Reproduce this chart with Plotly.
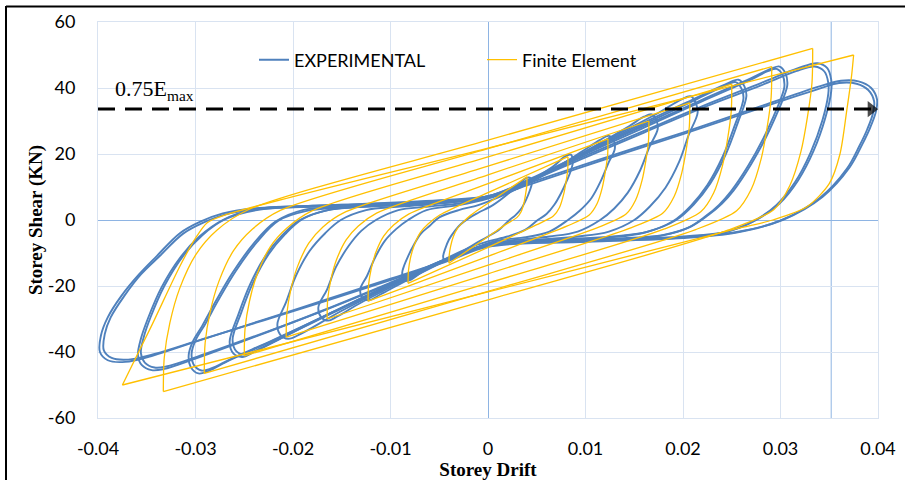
import plotly.graph_objects as go

# ---------------- axes / labels ----------------
x_tick_vals = [-0.04, -0.03, -0.02, -0.01, 0.0, 0.01, 0.02, 0.03, 0.04]
x_tick_text = ["-0.04", "-0.03", "-0.02", "-0.01", "0", "0.01", "0.02", "0.03", "0.04"]
y_tick_vals = [-60, -40, -20, 0, 20, 40, 60]
y_tick_text = ["-60", "-40", "-20", "0", "20", "40", "60"]

ref_line_drift = 0.0352          # extra vertical reference line
emax75_shear = 33.6              # 0.75 Emax level (dashed arrow)
emax75_drift = [-0.04, 0.0393]   # dashed arrow from / to
emax75_label = "0.75E<sub>max</sub>"

# ---------------- EXPERIMENTAL cycles (drift, shear) ----------------
exp_c1_drift = [-0.0010, 0.0005, 0.0020, 0.0032, 0.0040, 0.0044, 0.0045, 0.0043, 0.0039, 0.0034, 0.0028, 0.0022, 0.0012, 0.0000,
                -0.0015, -0.0030, -0.0040, -0.0045, -0.0046, -0.0044, -0.0040, -0.0034, -0.0028, -0.0020, -0.0010]
exp_c1_shear = [2.2, 4.5, 7.8, 11.0, 12.8, 12.6, 11.2, 9.0, 6.1, 3.4, 1.4, 0.0, -2.8, -5.0,
                -7.5, -10.2, -12.2, -12.3, -11.0, -8.8, -5.9, -3.3, -1.3, 0.5, 2.2]

exp_c2_drift = [-0.0030, -0.0010, 0.0010, 0.0030, 0.0050, 0.0068, 0.0079, 0.0085, 0.0087, 0.0085, 0.0081, 0.0075, 0.0068, 0.0060,
                0.0051, 0.0038, 0.0020, 0.0000, -0.0020, -0.0045, -0.0068, -0.0080, -0.0086, -0.0088, -0.0086, -0.0082, -0.0076,
                -0.0069, -0.0060, -0.0050, -0.0030]
exp_c2_shear = [3.0, 4.5, 6.8, 9.5, 13.0, 16.5, 19.3, 19.8, 17.5, 15.0, 12.0, 8.2, 4.6, 1.8,
                0.0, -3.0, -5.0, -6.5, -8.5, -12.0, -15.8, -18.2, -18.3, -16.0, -13.8, -11.0, -7.5,
                -4.2, -1.8, 0.8, 3.0]

exp_c3_drift = [0.0000, 0.0030, 0.0065, 0.0095, 0.0115, 0.0124, 0.0129, 0.0130, 0.0124, 0.0116, 0.0106, 0.0094, 0.0082, 0.0063,
                0.0039, 0.0015, 0.0000, -0.0030, -0.0075, -0.0110, -0.0122, -0.0129, -0.0131, -0.0124, -0.0116, -0.0106,
                -0.0094, -0.0082, -0.0063, -0.0030, 0.0000]
exp_c3_shear = [6.5, 9.5, 15.0, 20.5, 24.3, 25.5, 24.0, 21.5, 17.6, 12.0, 6.6, 2.8, 0.0, -3.5,
                -5.2, -6.0, -7.0, -10.5, -17.0, -22.5, -24.3, -23.5, -21.0, -16.9, -11.5, -6.4,
                -2.7, 0.0, 3.0, 4.5, 6.5]

exp_c4_drift = [0.0000, 0.0030, 0.0070, 0.0110, 0.0145, 0.0160, 0.0168, 0.0173, 0.0174, 0.01655, 0.0156, 0.01434, 0.01295, 0.0115,
                0.0092, 0.0063, 0.0030, 0.0000, -0.0030, -0.0080, -0.0130, -0.0155, -0.0164, -0.0171, -0.0174, -0.0165,
                -0.0156, -0.0143, -0.0130, -0.0115, -0.0092, -0.0063, -0.0030, 0.0000]
exp_c4_shear = [6.8, 10.0, 16.0, 22.5, 28.5, 31.3, 32.0, 30.0, 27.5, 22.1, 15.0, 8.3, 3.5, 0.0,
                -3.5, -5.0, -6.0, -7.3, -10.5, -17.5, -25.0, -29.3, -30.5, -29.5, -26.5, -21.0,
                -14.3, -7.9, -3.3, 0.0, 3.0, 4.0, 5.0, 6.8]

exp_c5_drift = [0.0000, 0.0030, 0.0080, 0.0130, 0.0175, 0.0198, 0.0208, 0.0213, 0.0215, 0.0206, 0.0196, 0.0182, 0.0166, 0.0150,
                0.0124, 0.0092, 0.0050, 0.0000, -0.0030, -0.0090, -0.0150, -0.0192, -0.0205, -0.0213, -0.0216, -0.0207,
                -0.0197, -0.0183, -0.0167, -0.0151, -0.0125, -0.0093, -0.0050, 0.0000]
exp_c5_shear = [7.0, 10.0, 17.5, 25.5, 32.5, 36.5, 37.5, 35.5, 32.5, 25.9, 17.6, 9.8, 4.1, 0.0,
                -3.5, -5.0, -6.0, -7.5, -10.5, -18.5, -27.5, -34.5, -36.0, -34.8, -31.5, -24.8,
                -16.9, -9.4, -4.0, 0.0, 3.0, 4.0, 5.0, 7.0]

exp_c6_drift = [0.0000, 0.0040, 0.0100, 0.0160, 0.0210, 0.0243, 0.0257, 0.0263, 0.0265, 0.0256, 0.0244, 0.0228, 0.0211, 0.0193,
                0.0164, 0.0128, 0.0070, 0.0000, -0.0040, -0.0100, -0.0160, -0.0210, -0.0240, -0.0252, -0.0261, -0.0265,
                -0.0256, -0.0244, -0.0228, -0.0211, -0.0193, -0.0164, -0.0128, -0.0060, 0.0000]
exp_c6_shear = [7.0, 11.5, 20.5, 29.5, 36.5, 41.0, 42.5, 40.5, 37.5, 29.3, 20.0, 11.1, 4.7, 0.0,
                -3.5, -5.0, -6.0, -7.5, -11.5, -19.5, -28.0, -35.5, -40.0, -41.5, -40.5, -37.0,
                -28.6, -19.5, -10.8, -4.6, 0.0, 3.0, 4.0, 5.2, 7.0]

exp_c6b_drift = [0.0000, 0.0040, 0.0100, 0.0160, 0.0210, 0.0240, 0.0254, 0.0260, 0.0262, 0.0253, 0.0241, 0.0225, 0.0208, 0.0190,
                 0.0161, 0.0125, 0.0070, 0.0000, -0.0040, -0.0100, -0.0160, -0.0210, -0.0237, -0.0249, -0.0258, -0.0262,
                 -0.0253, -0.0241, -0.0225, -0.0208, -0.0190, -0.0161, -0.0125, -0.0060, 0.0000]
exp_c6b_shear = [6.8, 11.2, 20.2, 29.0, 36.0, 40.3, 41.8, 39.8, 36.8, 28.6, 19.4, 10.6, 4.3, -0.3,
                 -3.8, -5.3, -6.3, -7.8, -11.8, -19.8, -28.2, -35.5, -39.4, -40.8, -39.8, -36.3,
                 -28.0, -19.0, -10.4, -4.3, 0.3, 3.2, 4.2, 5.0, 6.8]

exp_c7_drift = [0.0000, 0.0040, 0.0100, 0.0160, 0.0220, 0.0270, 0.0290, 0.0299, 0.0305, 0.0307, 0.0303, 0.0296, 0.0285, 0.0270,
                0.0252, 0.0240, 0.0226, 0.0208, 0.0180, 0.0130, 0.0070, 0.0000, -0.0040, -0.0100, -0.0160, -0.0220,
                -0.0265, -0.0287, -0.0297, -0.0305, -0.0307, -0.0303, -0.0293, -0.0280, -0.0262, -0.0240, -0.0218,
                -0.0190, -0.0150, -0.0080, 0.0000]
exp_c7_shear = [7.2, 12.0, 20.5, 28.5, 36.5, 43.0, 45.8, 46.5, 44.5, 41.0, 37.0, 32.0, 25.0, 17.0,
                9.0, 5.0, 1.5, -2.0, -4.5, -5.6, -6.2, -7.6, -11.5, -19.5, -28.0, -36.5,
                -42.5, -45.8, -46.5, -44.5, -41.0, -37.0, -32.0, -25.0, -16.0, -7.0, -0.5,
                3.0, 4.0, 5.0, 7.2]

exp_c7b_drift = [0.0000, 0.0040, 0.0100, 0.0160, 0.0220, 0.0268, 0.0287, 0.0296, 0.0302, 0.0304, 0.0300, 0.0293, 0.0282, 0.0267,
                 0.0249, 0.0237, 0.0223, 0.0205, 0.0177, 0.0130, 0.0070, 0.0000, -0.0040, -0.0100, -0.0160, -0.0220,
                 -0.0263, -0.0284, -0.0294, -0.0302, -0.0304, -0.0300, -0.0290, -0.0277, -0.0259, -0.0237, -0.0215,
                 -0.0187, -0.0150, -0.0080, 0.0000]
exp_c7b_shear = [6.9, 11.6, 20.0, 28.0, 36.0, 42.3, 45.1, 45.8, 44.0, 40.5, 36.5, 31.5, 24.5, 16.5,
                 8.6, 4.6, 1.1, -2.4, -4.8, -5.9, -6.5, -7.9, -11.8, -19.7, -28.1, -36.3,
                 -42.0, -45.0, -45.6, -43.8, -40.5, -36.5, -31.5, -24.5, -15.6, -6.7, -0.2,
                 2.7, 3.7, 4.7, 6.9]

exp_c8_drift = [0.0000, 0.0040, 0.0100, 0.0160, 0.0220, 0.0280, 0.0318, 0.0338, 0.0348, 0.0352, 0.0352, 0.0346, 0.0334, 0.0318,
                0.0299, 0.0275, 0.0245, 0.0200, 0.0100, 0.0000, -0.0040, -0.0100, -0.0170, -0.0240, -0.0300, -0.0333,
                -0.0345, -0.0355, -0.0359, -0.0356, -0.0349, -0.0335, -0.0316, -0.0296, -0.0272, -0.0240, -0.0180,
                -0.0080, 0.0000]
exp_c8_shear = [7.2, 11.8, 19.5, 27.0, 34.5, 41.5, 46.0, 47.5, 46.0, 42.5, 39.0, 31.0, 21.0, 12.0,
                5.0, 0.0, -3.5, -5.0, -6.2, -7.6, -11.5, -19.0, -27.5, -35.5, -42.0, -45.2,
                -45.5, -44.0, -41.0, -36.0, -30.0, -20.5, -11.5, -5.0, 0.0, 3.2, 4.3,
                5.3, 7.2]

exp_c8b_drift = [0.0000, 0.0040, 0.0100, 0.0160, 0.0220, 0.0280, 0.0316, 0.0335, 0.0345, 0.0349, 0.0349, 0.0343, 0.0331, 0.0315,
                 0.0296, 0.0272, 0.0242, 0.0200, 0.0100, 0.0000, -0.0040, -0.0100, -0.0170, -0.0240, -0.0298, -0.0330,
                 -0.0342, -0.0352, -0.0356, -0.0353, -0.0346, -0.0332, -0.0313, -0.0293, -0.0269, -0.0237, -0.0180,
                 -0.0080, 0.0000]
exp_c8b_shear = [6.9, 11.4, 19.0, 26.5, 34.0, 40.8, 45.1, 46.5, 45.0, 41.6, 38.2, 30.2, 20.5, 11.5,
                 4.6, -0.4, -3.8, -5.3, -6.5, -7.9, -11.8, -19.2, -27.6, -35.3, -41.4, -44.4,
                 -44.7, -43.2, -40.3, -35.4, -29.4, -20.0, -11.0, -4.6, 0.3, 3.0, 4.1,
                 5.1, 6.9]

exp_c9_drift = [0.0000, 0.0040, 0.0114, 0.0200, 0.0280, 0.0340, 0.0362, 0.0380, 0.0393, 0.0399, 0.0398, 0.0392, 0.0384, 0.0371,
                0.0343, 0.0302, 0.0258, 0.0200, 0.0100, 0.0000, -0.0040, -0.0100, -0.0193, -0.0295, -0.0345, -0.0372,
                -0.0390, -0.0398, -0.0397, -0.0390, -0.0376, -0.0358, -0.0340, -0.0316, -0.0295, -0.0272, -0.0238,
                -0.0150, -0.0050, 0.0000]
exp_c9_shear = [7.2, 11.0, 18.3, 26.5, 34.5, 40.5, 42.2, 42.0, 40.0, 36.5, 33.0, 28.0, 23.0, 16.0,
                7.0, 0.0, -3.5, -5.2, -6.3, -7.8, -12.0, -17.8, -26.7, -36.4, -41.2, -43.0,
                -42.5, -40.0, -35.0, -29.5, -23.0, -16.5, -11.0, -4.0, -0.5, 2.0, 3.6,
                4.6, 6.0, 7.2]

exp_c9b_drift = [0.0000, 0.0040, 0.0114, 0.0200, 0.0280, 0.0340, 0.0360, 0.0378, 0.0390, 0.0396, 0.0395, 0.0389, 0.0381, 0.0368,
                 0.0340, 0.0299, 0.0255, 0.0200, 0.0100, 0.0000, -0.0040, -0.0100, -0.0193, -0.0292, -0.0342, -0.0369,
                 -0.0386, -0.0394, -0.0393, -0.0387, -0.0373, -0.0356, -0.0337, -0.0313, -0.0292, -0.0269, -0.0235,
                 -0.0150, -0.0050, 0.0000]
exp_c9b_shear = [6.8, 10.5, 17.8, 26.0, 34.0, 39.8, 41.5, 41.3, 39.4, 36.0, 32.5, 27.5, 22.5, 15.5,
                 6.6, -0.3, -3.8, -5.5, -6.6, -8.1, -12.3, -18.2, -27.0, -36.0, -40.6, -42.3,
                 -41.8, -39.5, -34.5, -29.5, -23.0, -16.5, -11.0, -4.2, -0.8, 1.7, 3.3,
                 4.3, 5.7, 6.8]

exp_drift = [exp_c1_drift, exp_c2_drift, exp_c3_drift, exp_c4_drift, exp_c5_drift,
             exp_c6_drift, exp_c6b_drift, exp_c7_drift, exp_c7b_drift,
             exp_c8_drift, exp_c8b_drift, exp_c9_drift, exp_c9b_drift]
exp_shear = [exp_c1_shear, exp_c2_shear, exp_c3_shear, exp_c4_shear, exp_c5_shear,
             exp_c6_shear, exp_c6b_shear, exp_c7_shear, exp_c7b_shear,
             exp_c8_shear, exp_c8b_shear, exp_c9_shear, exp_c9b_shear]

# ---------------- FINITE ELEMENT cycles ----------------
fe_reload_drift = [
    [-0.0040, -0.00397, -0.00383, -0.00358, -0.00315, -0.0026, -0.00179, 0.0, 0.0040],
    [-0.0082, -0.00816, -0.00795, -0.00758, -0.00695, -0.00615, -0.00495, 0.0, 0.0082],
    [-0.0123, -0.01225, -0.01198, -0.0115, -0.0107, -0.00968, -0.00814, 0.0, 0.0123],
    [-0.0165, -0.01644, -0.01611, -0.01553, -0.01455, -0.0133, -0.01143, 0.0, 0.0165],
    [-0.0207, -0.02063, -0.02024, -0.01955, -0.0184, -0.01693, -0.01472, 0.0, 0.0207],
    [-0.0250, -0.02492, -0.02447, -0.02368, -0.02235, -0.02065, -0.01811, 0.0, 0.0250],
    [-0.0291, -0.02901, -0.0285, -0.0276, -0.0261, -0.02418, -0.0213, 0.0, 0.0291],
    [-0.0333, -0.0332, -0.03263, -0.03163, -0.02995, -0.02781, -0.02459, 0.0, 0.0333],
    [-0.0375, -0.0345, -0.0316, -0.0300, -0.0288, -0.0270, 0.0, 0.0375],
]
fe_reload_shear = [
    [-13.1, -10.5, -7.9, -5.2, -2.6, -0.8, 1.4, 5.1, 13.1],
    [-19.2, -15.4, -11.5, -7.7, -3.8, -1.2, 1.5, 8.3, 19.2],
    [-24.6, -19.7, -14.8, -9.8, -4.9, -1.5, 1.8, 11.0, 24.6],
    [-30.0, -24.0, -18.0, -12.0, -6.0, -1.8, 2.1, 13.7, 30.0],
    [-35.5, -28.4, -21.3, -14.2, -7.1, -2.1, 2.3, 16.3, 35.5],
    [-41.2, -33.0, -24.7, -16.5, -8.2, -2.5, 2.7, 19.1, 41.2],
    [-46.5, -37.2, -27.9, -18.6, -9.3, -2.8, 2.9, 21.6, 46.5],
    [-52.0, -41.6, -31.2, -20.8, -10.4, -3.1, 3.1, 24.2, 52.0],
    [-50.0, -32.0, -14.0, -5.5, -0.8, 1.5, 21.8, 50.0],
]
fe_unload_drift = [
    [0.0040, 0.00398, 0.00386, 0.00369, 0.00341, 0.00298, 0.00179, 0.0, -0.0040],
    [0.0082, 0.00818, 0.0080, 0.00775, 0.00733, 0.0067, 0.00495, 0.0, -0.0082],
    [0.0123, 0.01227, 0.01204, 0.01172, 0.01118, 0.01038, 0.00814, 0.0, -0.0123],
    [0.0165, 0.01646, 0.01619, 0.0158, 0.01513, 0.01416, 0.01143, 0.0, -0.0165],
    [0.0207, 0.02065, 0.02033, 0.01987, 0.01909, 0.01794, 0.01472, 0.0, -0.0207],
    [0.0250, 0.02495, 0.02458, 0.02405, 0.02314, 0.02182, 0.01811, 0.0, -0.0250],
    [0.0291, 0.02904, 0.02862, 0.02802, 0.0270, 0.0255, 0.0213, 0.0, -0.0291],
    [0.0333, 0.03323, 0.03276, 0.0321, 0.03095, 0.0293, 0.02459, 0.0, -0.0333],
    [0.0375, 0.0373, 0.0368, 0.0361, 0.0350, 0.0327, 0.0292, 0.0245, 0.0, -0.0375],
]
fe_unload_shear = [
    [13.1, 10.5, 7.9, 5.2, 2.6, 0.8, -1.4, -5.1, -13.1],
    [19.2, 15.4, 11.5, 7.7, 3.8, 1.2, -1.5, -8.3, -19.2],
    [24.6, 19.7, 14.8, 9.8, 4.9, 1.5, -1.8, -11.0, -24.6],
    [30.0, 24.0, 18.0, 12.0, 6.0, 1.8, -2.1, -13.7, -30.0],
    [35.5, 28.4, 21.3, 14.2, 7.1, 2.1, -2.3, -16.3, -35.5],
    [41.2, 33.0, 24.7, 16.5, 8.2, 2.5, -2.7, -19.1, -41.2],
    [46.5, 37.2, 27.9, 18.6, 9.3, 2.8, -2.9, -21.6, -46.5],
    [52.0, 41.6, 31.2, 20.8, 10.4, 3.1, -3.1, -24.2, -52.0],
    [50.0, 44.0, 33.3, 20.0, 11.0, 4.0, 0.0, -3.4, -21.8, -50.0],
]


def join_segments(seg_x, seg_y):
    xs, ys = [], []
    for sx, sy in zip(seg_x, seg_y):
        assert len(sx) == len(sy), (len(sx), len(sy))
        xs += list(sx) + [None]
        ys += list(sy) + [None]
    return xs, ys


ex, ey = join_segments(exp_drift, exp_shear)
fx, fy = join_segments(fe_reload_drift + fe_unload_drift, fe_reload_shear + fe_unload_shear)

BLUE = "#4F81BD"
GOLD = "#FFC000"
GRID = "#D9E3F1"
ZERO = "#8EB4E3"
SERIF = "Liberation Serif, Times New Roman, serif"
SANS = "Lato, Open Sans, sans-serif"

fig = go.Figure()
fig.add_trace(go.Scatter(x=ex, y=ey, mode="lines", name="EXPERIMENTAL", connectgaps=False,
                         line=dict(color=BLUE, width=1.9, shape="spline", smoothing=1.0),
                         hoverinfo="skip"))
fig.add_trace(go.Scatter(x=fx, y=fy, mode="lines", name="Finite Element", connectgaps=False,
                         line=dict(color=GOLD, width=1.3, shape="spline", smoothing=0.8),
                         hoverinfo="skip"))
# 0.75 Emax dashed arrow
fig.add_trace(go.Scatter(x=emax75_drift, y=[emax75_shear, emax75_shear], mode="lines+markers",
                         showlegend=False, hoverinfo="skip",
                         line=dict(color="black", width=3, dash="17px,10px"),
                         marker=dict(symbol="triangle-right", size=[0, 14], color="black",
                                     line=dict(width=0))))

# plot-area pixel geometry
L, R, T, B = 98, 27, 22, 62
W, H = 905, 480
pw, ph = W - L - R, H - T - B


def px_x(p):
    return (p - L) / pw


def px_y(p):
    return (H - B - p) / ph


shapes = [
    dict(type="line", xref="x", yref="paper", x0=ref_line_drift, x1=ref_line_drift, y0=0, y1=1,
         line=dict(color=ZERO, width=1), layer="below"),
    # outer picture frame (left and top visible)
    dict(type="line", xref="paper", yref="paper", x0=px_x(6), x1=px_x(6), y0=px_y(6), y1=px_y(500),
         line=dict(color="black", width=2)),
    dict(type="line", xref="paper", yref="paper", x0=px_x(6), x1=px_x(920), y0=px_y(6.5), y1=px_y(6.5),
         line=dict(color="black", width=2)),
]

annotations = [
    dict(x=-0.0385, y=39.5, xref="x", yref="y", text=emax75_label, showarrow=False,
         xanchor="left", yanchor="middle", font=dict(family=SERIF, size=22, color="black")),
]

axis_common = dict(showgrid=True, gridcolor=GRID, gridwidth=1, zeroline=True, zerolinecolor=ZERO,
                   zerolinewidth=1, showline=True, linecolor=GRID, linewidth=1, mirror=True,
                   ticks="", tickfont=dict(family=SANS, size=18, color="black"))

fig.update_layout(
    width=W, height=H,
    margin=dict(l=L, r=R, t=T, b=B, autoexpand=False),
    paper_bgcolor="white", plot_bgcolor="white",
    showlegend=True,
    legend=dict(orientation="h", x=px_x(254), xanchor="left", y=px_y(60), yanchor="middle",
                font=dict(family=SANS, size=18, color="black"),
                bgcolor="rgba(0,0,0,0)", entrywidth=183, entrywidthmode="pixels"),
    xaxis=dict(range=[-0.04, 0.04], tickvals=x_tick_vals, ticktext=x_tick_text,
               ticklabelstandoff=14,
               title=dict(text="Storey Drift", standoff=8,
                          font=dict(family=SERIF, size=19, color="black", weight="bold")),
               **axis_common),
    yaxis=dict(range=[-60, 60], tickvals=y_tick_vals, ticktext=y_tick_text,
               ticklabelstandoff=18,
               title=dict(text="Storey Shear (KN)", standoff=0,
                          font=dict(family=SERIF, size=19, color="black", weight="bold")),
               **axis_common),
    shapes=shapes,
    annotations=annotations,
)

fig.write_html("out.html")
